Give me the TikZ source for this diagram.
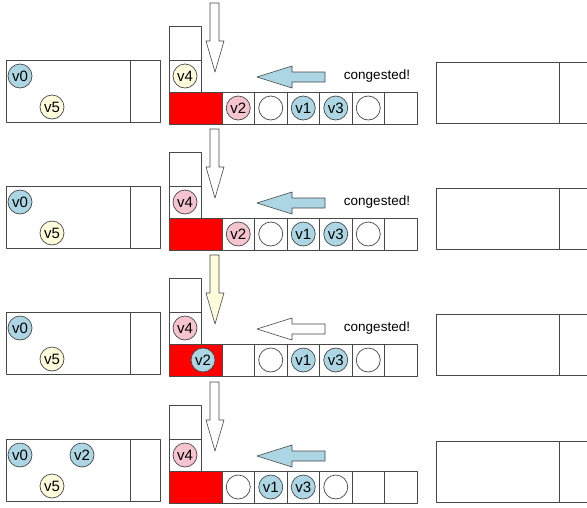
\documentclass[tikz,border=0pt]{standalone}
\usepackage{fontspec}
\setmainfont{Liberation Sans}
\usepackage{xcolor}
\usetikzlibrary{positioning}
\definecolor{vblue}{RGB}{173,214,228}
\definecolor{vpink}{RGB}{246,196,206}
\definecolor{vyellow}{RGB}{255,252,220}
\definecolor{vred}{RGB}{255,0,0}
\definecolor{edge}{RGB}{72,72,72}
\tikzset{
	cellbox/.style={draw=edge,line width=0.8pt,inner sep=0pt,minimum width=32.5pt,minimum height=32pt},
	vtx/.style={circle,draw=edge,line width=0.7pt,minimum size=24pt,inner sep=0pt,font=\fontsize{15}{15}\selectfont},
	blockarrow/.style={draw=edge,line width=0.6pt},
	note/.style={font=\fontsize{13.5}{13.5}\selectfont}
}

\begin{document}
\begin{tikzpicture}[line cap=round,line join=round,x=1pt,y=-1pt]
	\clip (0,0) rectangle (587,507);
	\fill[white] (0,0) rectangle (587,507);
	% the four stages share the same buffers
	\foreach \r/\dy in {1/0,2/126,3/252,4/379}{
	\begin{scope}[shift={(0,\dy)}]
		\node[cellbox,minimum width=124pt,minimum height=62pt] (lbuf\r) at (68,91) {};
		\node[cellbox,minimum width=30pt,minimum height=62pt] (lend\r) at (145,91) {};
		\node[cellbox,minimum width=123pt,minimum height=61pt] (rbuf\r) at (497.5,92.5) {};
		\node[cellbox,minimum width=32pt,minimum height=61pt] (rend\r) at (575,92.5) {};
		\node[cellbox,minimum width=32pt,minimum height=34pt] (cola\r) at (185,43) {};
		\node[cellbox,minimum width=32pt] (colb\r) at (185,76) {};
		\node[cellbox,fill=vred,minimum width=53pt] (red\r) at (195.5,108) {};
		\foreach \i in {1,...,6}
		\node[cellbox] (c\r-\i) at (222+32.5*\i-16.25,108) {};
	\end{scope}
	}

	% stage 1
	\node[vtx,fill=vblue] (v0-1) at (20,76) {v0};
	\node[vtx,fill=vyellow] (v5-1) at (52,107) {v5};
	\node[vtx,fill=vyellow] (v4-1) at (colb1) {v4};
	\node[vtx,fill=vpink] (v2-1) at (c1-1) {v2};
	\node[vtx] (e1-1) at (c1-2) {};
	\node[vtx,fill=vblue] (v1-1) at (c1-3) {v1};
	\node[vtx,fill=vblue] (v3-1) at (c1-4) {v3};
	\node[vtx] (e1-2) at (c1-5) {};
	\draw[blockarrow,fill=white] (210,3) -- (219,3) -- (219,41) -- (224,41) -- (215,72) -- (206,41) -- (210,41) -- cycle;
	\draw[blockarrow,fill=vblue] (325,72) -- (292,72) -- (292,66) -- (257,77) -- (292,88) -- (292,82) -- (325,82) -- cycle;
	\node[note] (cg1) at (377,76) {congested!};

	% stage 2
	\begin{scope}[shift={(0,126)}]
	\node[vtx,fill=vblue] (v0-2) at (20,76) {v0};
	\node[vtx,fill=vyellow] (v5-2) at (52,107) {v5};
	\node[vtx,fill=vpink] (v4-2) at (colb2) {v4};
	\node[vtx,fill=vpink] (v2-2) at (c2-1) {v2};
	\node[vtx] (e2-1) at (c2-2) {};
	\node[vtx,fill=vblue] (v1-2) at (c2-3) {v1};
	\node[vtx,fill=vblue] (v3-2) at (c2-4) {v3};
	\node[vtx] (e2-2) at (c2-5) {};
	\draw[blockarrow,fill=white] (210,3) -- (219,3) -- (219,41) -- (224,41) -- (215,72) -- (206,41) -- (210,41) -- cycle;
	\draw[blockarrow,fill=vblue] (325,72) -- (292,72) -- (292,66) -- (257,77) -- (292,88) -- (292,82) -- (325,82) -- cycle;
	\node[note] (cg2) at (377,76) {congested!};
	\end{scope}

	% stage 3
	\begin{scope}[shift={(0,252)}]
	\node[vtx,fill=vblue] (v0-3) at (20,76) {v0};
	\node[vtx,fill=vyellow] (v5-3) at (52,107) {v5};
	\node[vtx,fill=vpink] (v4-3) at (colb3) {v4};
	\node[vtx,fill=vblue] (v2-3) at (203,108) {v2};
	\node[vtx] (e3-1) at (c3-2) {};
	\node[vtx,fill=vblue] (v1-3) at (c3-3) {v1};
	\node[vtx,fill=vblue] (v3-3) at (c3-4) {v3};
	\node[vtx] (e3-2) at (c3-5) {};
	\draw[blockarrow,fill=vyellow] (210,3) -- (219,3) -- (219,41) -- (224,41) -- (215,72) -- (206,41) -- (210,41) -- cycle;
	\draw[blockarrow,fill=white] (325,72) -- (292,72) -- (292,66) -- (257,77) -- (292,88) -- (292,82) -- (325,82) -- cycle;
	\node[note] (cg3) at (377,76) {congested!};
	\end{scope}

	% stage 4
	\begin{scope}[shift={(0,379)}]
	\node[vtx,fill=vblue] (v0-4) at (20,76) {v0};
	\node[vtx,fill=vblue] (v2-4) at (82,76) {v2};
	\node[vtx,fill=vyellow] (v5-4) at (52,107) {v5};
	\node[vtx,fill=vpink] (v4-4) at (colb4) {v4};
	\node[vtx] (e4-1) at (c4-1) {};
	\node[vtx,fill=vblue] (v1-4) at (c4-2) {v1};
	\node[vtx,fill=vblue] (v3-4) at (c4-3) {v3};
	\node[vtx] (e4-2) at (c4-4) {};
	\draw[blockarrow,fill=white] (210,3) -- (219,3) -- (219,41) -- (224,41) -- (215,72) -- (206,41) -- (210,41) -- cycle;
	\draw[blockarrow,fill=vblue] (325,72) -- (292,72) -- (292,66) -- (257,77) -- (292,88) -- (292,82) -- (325,82) -- cycle;
	\end{scope}
\end{tikzpicture}
\end{document}
